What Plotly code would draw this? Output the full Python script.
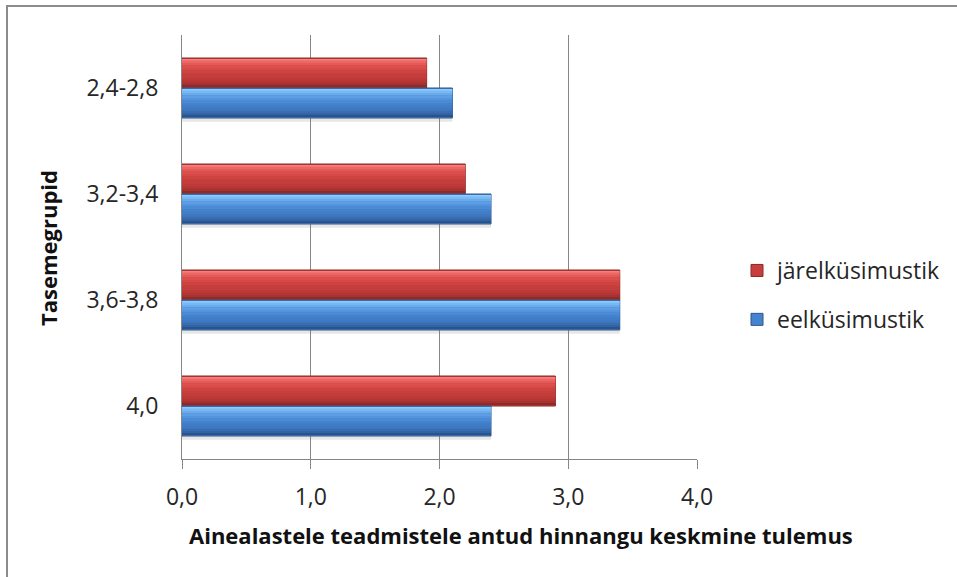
import plotly.graph_objects as go

# Groups listed bottom to top
categories = ["4,0", "3,6-3,8", "3,2-3,4", "2,4-2,8"]
eel_values = [2.4, 3.4, 2.4, 2.1]      # eelküsimustik
jarel_values = [2.9, 3.4, 2.2, 1.9]    # järelküsimustik
x_ticks = [0, 1, 2, 3, 4]

W = 0.283  # bar thickness in category units

# Shading stops for the cylinder look: (fraction from top edge, colour)
shades = {
    "järelküsimustik": [(0.00, "#F49492"), (0.10, "#EE6A68"), (0.28, "#DE504E"),
                        (0.50, "#CA403E"), (0.72, "#BC3A38"), (0.90, "#A2302E"),
                        (1.00, "#802523")],
    "eelküsimustik": [(0.00, "#A0D4FC"), (0.10, "#7CBDF7"), (0.28, "#5E9FE5"),
                      (0.50, "#4785D0"), (0.72, "#3D77BF"), (0.90, "#30609D"),
                      (1.00, "#254B7B")],
}
legend_colour = {"järelküsimustik": "#C83E3C", "eelküsimustik": "#4683CF"}
edge_colour = {"järelküsimustik": "#8A2826", "eelküsimustik": "#2B558A"}

FONT = "Open Sans"
GRID = "#868686"
TXT = "#262626"
N_STRIPS = 12


def hex_rgb(h):
    h = h.lstrip("#")
    return tuple(int(h[i:i + 2], 16) for i in (0, 2, 4))


def sample(stops, t):
    for (t0, c0), (t1, c1) in zip(stops, stops[1:]):
        if t0 <= t <= t1:
            a = (t - t0) / (t1 - t0)
            r0, r1 = hex_rgb(c0), hex_rgb(c1)
            return "rgb(%d,%d,%d)" % tuple(round(p + (q - p) * a) for p, q in zip(r0, r1))
    return stops[-1][1]


fig = go.Figure()


def add_series(name, values, offset, rank):
    # body (carries the legend entry and the outline)
    fig.add_trace(go.Bar(
        y=categories, x=values, orientation="h", name=name,
        offset=offset, width=W, legendgroup=name, legendrank=rank,
        marker=dict(color=legend_colour[name], line=dict(color=edge_colour[name], width=1)),
        hoverinfo="x+y",
    ))
    # horizontal shading strips, top to bottom
    h = W / N_STRIPS
    inner = 0.012
    for i in range(N_STRIPS):
        t = (i + 0.5) / N_STRIPS
        top = offset + W - i * h
        lo = max(top - h, offset + inner)
        hi = min(top, offset + W - inner)
        fig.add_trace(go.Bar(
            y=categories, x=values, orientation="h", showlegend=False,
            offset=lo, width=hi - lo, legendgroup=name,
            marker=dict(color=sample(shades[name], t), line=dict(width=0)),
            hoverinfo="skip",
        ))


add_series("järelküsimustik", jarel_values, 0.0, 1)
add_series("eelküsimustik", eel_values, -W, 2)

# soft shadow under the lower bar of each pair
fig.add_trace(go.Bar(
    y=categories, x=eel_values, orientation="h", showlegend=False,
    offset=-W - 0.035, width=0.035, marker=dict(color="rgba(120,120,120,0.18)", line=dict(width=0)),
    hoverinfo="skip",
))

L, R, T, B = 182, 260, 35, 118
PW, PH = 957 - L - R, 577 - T - B


def px_x(p):
    return (p - L) / PW


def px_y(p):
    return (577 - B - p) / PH


fig.update_layout(
    width=957, height=577,
    margin=dict(l=L, r=R, t=T, b=B, autoexpand=False),
    paper_bgcolor="white", plot_bgcolor="white",
    barmode="overlay",
    separators=", ",
    font=dict(family=FONT, size=23, color=TXT),
    showlegend=True,
    legend=dict(
        x=px_x(737), y=px_y(249), xanchor="left", yanchor="top",
        traceorder="grouped", tracegroupgap=16,
        font=dict(family=FONT, size=23, color=TXT),
        itemwidth=30, bgcolor="rgba(0,0,0,0)",
    ),
    xaxis=dict(
        range=[0, 4], tickvals=x_ticks, tickformat=".1f",
        showgrid=True, gridcolor=GRID, gridwidth=1,
        zeroline=False, showline=True, linecolor=GRID, linewidth=1,
        ticks="outside", ticklen=9, tickcolor=GRID, tickwidth=1,
        ticklabelstandoff=8,
        tickfont=dict(family=FONT, size=23, color=TXT),
    ),
    yaxis=dict(
        type="category", categoryorder="array", categoryarray=categories,
        range=[-0.5, 3.5],
        showgrid=False, zeroline=False, showline=True, linecolor=GRID, linewidth=1,
        ticks="", ticklabelstandoff=18,
        tickfont=dict(family=FONT, size=23, color=TXT),
    ),
    annotations=[
        dict(text="<b>Ainealastele teadmistele antud hinnangu keskmine tulemus</b>",
             xref="paper", yref="paper", x=px_x(521), y=px_y(535),
             xanchor="center", yanchor="middle", showarrow=False,
             font=dict(family=FONT, size=22, color="#111111")),
        dict(text="<b>Tasemegrupid</b>", textangle=-90,
             xref="paper", yref="paper", x=px_x(48), y=px_y(248),
             xanchor="center", yanchor="middle", showarrow=False,
             font=dict(family=FONT, size=22, color="#111111")),
    ],
    shapes=[
        # outer chart frame (left and top edges)
        dict(type="line", xref="paper", yref="paper",
             x0=px_x(7), x1=px_x(7), y0=px_y(577), y1=px_y(5),
             line=dict(color="#8C8C8C", width=2), layer="below"),
        dict(type="line", xref="paper", yref="paper",
             x0=px_x(6), x1=px_x(957), y0=px_y(6), y1=px_y(6),
             line=dict(color="#8C8C8C", width=2), layer="below"),
    ],
)

fig.write_html("out.html")
